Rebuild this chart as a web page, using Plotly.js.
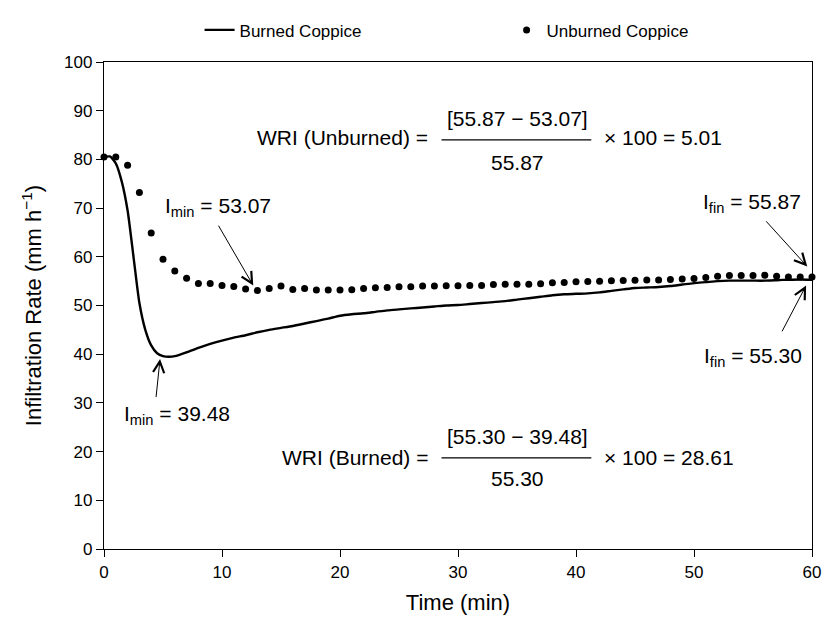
<!DOCTYPE html>
<html><head><meta charset="utf-8">
<script src="https://cdn.plot.ly/plotly-3.0.1.min.js"></script>
<style>html,body{margin:0;padding:0;background:#fff}</style>
</head><body><div id="chart" style="width:826px;height:617px"></div>
<script>
// Data
const seriesNames = ["Burned Coppice", "Unburned Coppice"];
const burnedTime = [0,0.5,1,1.5,2,2.5,3,3.5,4,4.5,5,5.5,6,7,8,9,10,11,12,13,14,15,16,17,18,19,20,21,22,23,24,25,26,27,28,29,30,31,32,33,34,35,36,37,38,39,40,41,42,43,44,45,46,47,48,49,50,51,52,53,54,55,56,57,58,59,60];
const burnedRate = [80.5,80.6,79.2,75.5,69.5,60.0,50.5,45.0,41.8,40.2,39.6,39.48,39.6,40.4,41.3,42.1,42.8,43.4,43.9,44.5,45.0,45.4,45.8,46.3,46.8,47.3,47.9,48.2,48.4,48.7,49.0,49.2,49.4,49.6,49.8,50.0,50.1,50.3,50.5,50.7,50.9,51.2,51.5,51.8,52.1,52.3,52.4,52.5,52.7,53.0,53.3,53.6,53.7,53.8,54.0,54.3,54.6,54.8,55.0,55.1,55.1,55.1,55.1,55.2,55.3,55.35,55.3];
const unburnedTime = [0,1,2,3,4,5,6,7,8,9,10,11,12,13,14,15,16,17,18,19,20,21,22,23,24,25,26,27,28,29,30,31,32,33,34,35,36,37,38,39,40,41,42,43,44,45,46,47,48,49,50,51,52,53,54,55,56,57,58,59,60];
const unburnedRate = [80.5,80.5,78.8,73.2,64.9,59.5,57.1,55.6,54.5,54.5,54.1,53.9,53.4,53.07,53.5,54.0,53.3,53.5,53.2,53.2,53.2,53.24,53.5,53.64,53.71,53.84,53.84,53.98,53.98,54.05,54.05,54.11,54.11,54.32,54.38,54.38,54.38,54.45,54.65,54.72,54.86,54.92,54.99,55.06,55.13,55.2,55.26,55.26,55.33,55.46,55.53,55.74,56.0,56.14,56.14,56.14,56.2,56.0,55.87,55.87,55.87];
const xTicks = [0,10,20,30,40,50,60];
const yTicks = [0,10,20,30,40,50,60,70,80,90,100];
const xTitle = "Time (min)";
const yTitle = "Infiltration Rate (mm h<sup>\u22121</sup>)";

const FONT = '"Liberation Sans", Arial, Helvetica, sans-serif';

const traces = [
  {x: burnedTime, y: burnedRate, name: seriesNames[0], type: 'scatter', mode: 'lines',
   line: {color: '#000', width: 2.4, shape: 'spline', smoothing: 0.6}},
  {x: unburnedTime, y: unburnedRate, name: seriesNames[1], type: 'scatter', mode: 'markers',
   marker: {color: '#000', size: 7}, cliponaxis: false}
];

function arrow(x, y, ax, ay) {
  return {x: x, y: y, ax: ax, ay: ay, xref: 'x', yref: 'y', axref: 'x', ayref: 'y',
    text: '', showarrow: true, arrowhead: 5, arrowsize: 2.2, arrowwidth: 1, arrowcolor: '#000', standoff: 0};
}
function label(x, y, text, anchor) {
  return {x: x, y: y, xref: 'x', yref: 'y', text: text, showarrow: false,
    xanchor: anchor || 'center', yanchor: 'middle', font: {family: FONT, size: 21, color: '#000'}};
}

const annotations = [
  label(9.7, 70.3, 'I<sub>min</sub> = 53.07'),
  arrow(12.65, 54.1, 9.63, 66.7),
  label(6.15, 27.5, 'I<sub>min</sub> = 39.48'),
  arrow(4.75, 39.0, 4.4, 30.9),
  label(54.9, 71.0, 'I<sub>fin</sub> = 55.87'),
  arrow(59.6, 58.0, 56.0, 67.6),
  label(55.0, 39.5, 'I<sub>fin</sub> = 55.30'),
  arrow(59.5, 54.1, 57.4, 44.4),
  label(27.6, 84.5, 'WRI (Unburned) =', 'right'),
  label(35.0, 88.3, '[55.87 \u2212 53.07]'),
  label(35.0, 79.4, '55.87'),
  label(42.2, 84.5, '\u00d7 100 = 5.01', 'left'),
  label(27.6, 18.8, 'WRI (Burned) =', 'right'),
  label(35.0, 23.2, '[55.30 \u2212 39.48]'),
  label(35.0, 14.4, '55.30'),
  label(42.2, 18.8, '\u00d7 100 = 28.61', 'left')
];

const shapes = [
  {type: 'line', xref: 'x', yref: 'y', x0: 28.6, x1: 41.3, y0: 84.0, y1: 84.0, line: {color: '#000', width: 1.3}},
  {type: 'line', xref: 'x', yref: 'y', x0: 28.6, x1: 41.3, y0: 18.7, y1: 18.7, line: {color: '#000', width: 1.3}}
];

const layout = {
  width: 826, height: 617,
  margin: {l: 104, r: 14, t: 50, b: 68, pad: 0},
  paper_bgcolor: '#fff', plot_bgcolor: '#fff',
  font: {family: FONT, color: '#000', size: 16},
  showlegend: true,
  legend: {orientation: 'h', x: 0.135, xanchor: 'left', y: 1.065, yanchor: 'middle',
    font: {family: FONT, size: 17, color: '#000'}, entrywidth: 262, entrywidthmode: 'pixels',
    bgcolor: 'rgba(0,0,0,0)'},
  xaxis: {range: [0, 60], tickvals: xTicks, ticktext: xTicks.map(String), ticks: 'outside', ticklen: 7,
    tickcolor: '#000', showline: true, linecolor: '#000', linewidth: 1.2, mirror: true,
    showgrid: false, zeroline: false, tickfont: {size: 17},
    title: {text: xTitle, font: {size: 22}, standoff: 14}},
  yaxis: {range: [0, 100], tickvals: yTicks, ticktext: yTicks.map(String), ticks: 'outside', ticklen: 7,
    tickcolor: '#000', showline: true, linecolor: '#000', linewidth: 1.2, mirror: true,
    showgrid: false, zeroline: false, tickfont: {size: 17},
    title: {text: yTitle, font: {size: 22}, standoff: 16}},
  annotations: annotations,
  shapes: shapes
};

Plotly.newPlot('chart', traces, layout, {staticPlot: true, displayModeBar: false});
</script>
</body></html>
